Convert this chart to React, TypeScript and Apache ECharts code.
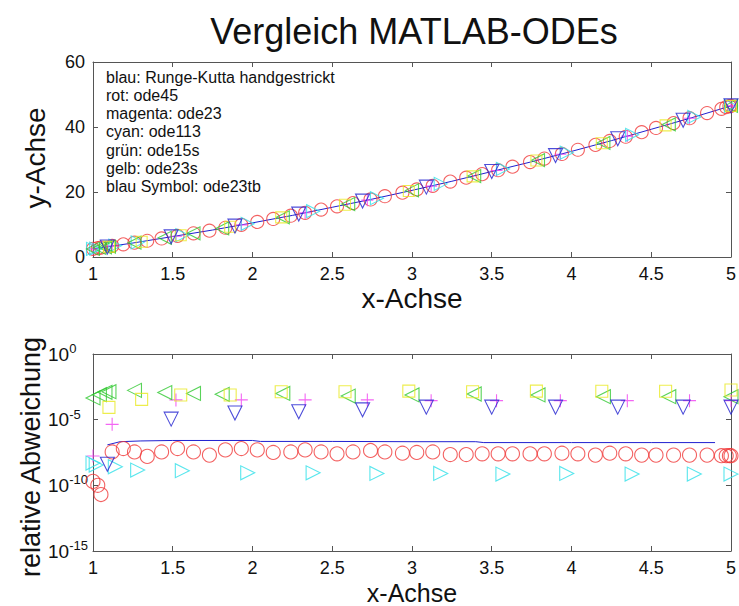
import React, { useEffect, useRef } from "react";
import * as echarts from "echarts";

const titleText = "Vergleich MATLAB-ODEs";
const xAxisName = "x-Achse";
const yAxisNameTop = "y-Achse";
const yAxisNameBottom = "relative Abweichung";
const legendLines = [
  "blau: Runge-Kutta handgestrickt",
  "rot: ode45",
  "magenta: ode23",
  "cyan: ode113",
  "grün: ode15s",
  "gelb: ode23s",
  "blau Symbol: ode23tb",
];

// Runge-Kutta (hand-made): solution line (top) and relative error line (bottom)
const rkX = [1, 1.25, 1.5, 1.75, 2, 2.25, 2.5, 2.75, 3, 3.25, 3.5, 3.75, 4, 4.25, 4.5, 4.75, 5];
const rkY = [2.5, 4.3, 6.3, 8.3, 10.5, 12.8, 15.3, 17.8, 20.5, 23.3, 26.3, 29.3, 32.5, 35.8, 39.3, 42.8, 46.5];
const rkErrX = [1.09, 1.17, 1.3, 1.5, 2.0, 2.05, 2.5, 3.0, 3.4, 3.45, 4.0, 4.5, 4.9];
const rkErr = [1.2e-7, 2.1e-7, 2.4e-7, 2.6e-7, 2.6e-7, 2.2e-7, 2.2e-7, 2.1e-7, 2.1e-7, 1.8e-7, 1.8e-7, 1.8e-7, 1.8e-7];

// ode45 (red circles)
const ode45X = [1.0, 1.03, 1.05, 1.12, 1.19, 1.26, 1.34, 1.43, 1.53, 1.63, 1.73, 1.83, 1.93, 2.03, 2.13, 2.24, 2.33, 2.43, 2.53, 2.63, 2.74, 2.83, 2.94, 3.03, 3.13, 3.24, 3.34, 3.44, 3.54, 3.63, 3.74, 3.83, 3.94, 4.04, 4.15, 4.24, 4.34, 4.44, 4.53, 4.64, 4.74, 4.85, 4.94, 4.97, 4.99, 5.0];
const ode45Y = [2.5, 2.7, 2.9, 3.4, 3.9, 4.4, 5.0, 5.7, 6.5, 7.3, 8.1, 9.0, 9.9, 10.8, 11.7, 12.7, 13.6, 14.6, 15.6, 16.6, 17.7, 18.7, 19.8, 20.8, 21.9, 23.2, 24.4, 25.5, 26.7, 27.8, 29.2, 30.3, 31.7, 33.0, 34.5, 35.7, 37.0, 38.4, 39.7, 41.2, 42.7, 44.3, 45.6, 46.1, 46.4, 46.5];
const ode45Err = [2.0e-10, 1.0e-10, 2.0e-11, 3.5e-8, 6.3e-8, 3.5e-8, 1.6e-8, 3.5e-8, 6.3e-8, 3.5e-8, 2.0e-8, 5.0e-8, 6.3e-8, 5.0e-8, 3.2e-8, 3.5e-8, 5.0e-8, 3.5e-8, 2.5e-8, 3.5e-8, 4.5e-8, 3.5e-8, 2.8e-8, 3.2e-8, 3.5e-8, 2.2e-8, 2.2e-8, 2.5e-8, 2.5e-8, 2.5e-8, 2.5e-8, 2.5e-8, 2.8e-8, 2.5e-8, 2.0e-8, 2.8e-8, 2.5e-8, 2.0e-8, 2.0e-8, 2.0e-8, 2.0e-8, 2.0e-8, 1.8e-8, 1.8e-8, 1.8e-8, 1.8e-8];

// ode23 (magenta plus)
const ode23X = [1.0, 1.12, 1.52, 1.93, 2.33, 2.72, 3.12, 3.53, 3.93, 4.35, 4.74, 5.0];
const ode23Y = [2.5, 3.4, 6.4, 9.9, 13.6, 17.5, 21.8, 26.6, 31.6, 37.2, 42.7, 46.5];
const ode23Err = [1.7e-8, 4.4e-6, 3.2e-4, 3.2e-4, 3.2e-4, 3.2e-4, 2.8e-4, 2.8e-4, 2.8e-4, 2.8e-4, 2.8e-4, 2.8e-4];

// ode113 (cyan right triangles)
const ode113X = [1.0, 1.02, 1.14, 1.28, 1.56, 1.97, 2.38, 2.78, 3.18, 3.57, 3.97, 4.38, 4.77, 5.0];
const ode113Y = [2.5, 2.6, 3.5, 4.5, 6.7, 10.2, 14.1, 18.1, 22.5, 27.1, 32.1, 37.6, 43.1, 46.5];
const ode113Err = [5e-9, 3.5e-9, 2.6e-9, 1.45e-9, 1.3e-9, 9e-10, 9e-10, 8e-10, 8e-10, 7.2e-10, 8e-10, 7.2e-10, 7.2e-10, 7.2e-10];

// ode15s (green left triangles)
const ode15sX = [1.0, 1.04, 1.075, 1.1, 1.26, 1.45, 1.63, 1.81, 2.19, 2.6, 3.0, 3.39, 3.79, 4.2, 4.61, 5.0];
const ode15sY = [2.5, 2.8, 3.0, 3.2, 4.4, 5.9, 7.3, 8.8, 12.2, 16.3, 20.5, 24.9, 29.8, 35.1, 40.8, 46.5];
const ode15sErr = [4.5e-4, 8e-4, 1.2e-3, 1.35e-3, 1.7e-3, 1.15e-3, 1.0e-3, 8.5e-4, 1.0e-3, 6.3e-4, 7.6e-4, 9e-4, 7.6e-4, 5.6e-4, 5.6e-4, 5.6e-4];

// ode23s (yellow squares)
const ode23sX = [1.1, 1.305, 1.55, 1.86, 2.18, 2.58, 2.98, 3.38, 3.78, 4.19, 4.59, 5.0];
const ode23sY = [3.2, 4.7, 6.7, 9.3, 12.2, 16.1, 20.3, 24.8, 29.7, 35.0, 40.5, 46.5];
const ode23sErr = [8.7e-5, 3.5e-4, 7.6e-4, 7.6e-4, 1.35e-3, 1.35e-3, 1.5e-3, 1.35e-3, 1.5e-3, 1.45e-3, 1.45e-3, 1.8e-3];

// ode23tb (blue down triangles)
const ode23tbX = [1.09, 1.49, 1.89, 2.29, 2.69, 3.09, 3.5, 3.9, 4.29, 4.7, 5.0];
const ode23tbY = [3.1, 6.2, 9.5, 13.2, 17.2, 21.5, 26.3, 31.2, 36.4, 42.1, 46.5];
const ode23tbErr = [4e-9, 1.1e-5, 3.2e-5, 4e-5, 5.6e-5, 9e-5, 9e-5, 9e-5, 9e-5, 9e-5, 9e-5];

const zip = (xs: number[], ys: number[]) => xs.map((x, i) => [x, ys[i]]);

const FONT = "'Liberation Sans', Arial, Helvetica, sans-serif";
const C_RED = "#f03a3a";
const C_MAG = "#f040f0";
const C_CYAN = "#30e0e8";
const C_GREEN = "#30c830";
const C_YELLOW = "#e8e820";
const C_BLUE = "#2020d0";
const AX = "#555";

const PLUS = "path://M6,0L6,12M0,6L12,6";

function scatter(name: string, data: number[][], color: string, symbol: string, rotate: number, size: number, xi: number, yi: number) {
  return {
    name,
    type: "scatter",
    xAxisIndex: xi,
    yAxisIndex: yi,
    data,
    symbol,
    symbolRotate: rotate,
    symbolSize: size,
    itemStyle: { color: "rgba(0,0,0,0)", borderColor: color, borderWidth: 1.1 },
    emphasis: { disabled: true },
    z: 3,
  };
}

function xAxisDef(grid: number, pos: "bottom" | "top", labels: boolean) {
  return {
    type: "value",
    gridIndex: grid,
    position: pos,
    min: 1,
    max: 5,
    interval: 0.5,
    axisLine: { show: true, onZero: false, lineStyle: { color: AX, width: 1 } },
    axisTick: { show: true, inside: true, length: 5, lineStyle: { color: AX } },
    axisLabel: { show: labels, color: "#111", fontSize: 18, fontFamily: FONT, margin: 8 },
    splitLine: { show: false },
  };
}

export default function App() {
  const ref = useRef<HTMLDivElement>(null);
  useEffect(() => {
    const chart = echarts.init(ref.current!, null, { renderer: "svg" });
    const yTop = (pos: "left" | "right", labels: boolean) => ({
      type: "value",
      gridIndex: 0,
      position: pos,
      min: 0,
      max: 60,
      interval: 20,
      axisLine: { show: true, onZero: false, lineStyle: { color: AX, width: 1 } },
      axisTick: { show: true, inside: true, length: 5, lineStyle: { color: AX } },
      axisLabel: { show: labels, color: "#111", fontSize: 18, fontFamily: FONT, margin: 8 },
      splitLine: { show: false },
    });
    const yBottom = (pos: "left" | "right", labels: boolean) => ({
      type: "log",
      logBase: 10,
      gridIndex: 1,
      position: pos,
      min: 1e-15,
      max: 1,
      interval: 5,
      axisLine: { show: true, onZero: false, lineStyle: { color: AX, width: 1 } },
      axisTick: { show: true, inside: true, length: 5, lineStyle: { color: AX } },
      axisLabel: {
        show: labels,
        margin: 45,
        align: "left",
        formatter: (v: number) => `{b|10}{s|${Math.round(Math.log10(v))}}`,
        rich: {
          b: { fontSize: 19, color: "#111", fontFamily: FONT },
          s: { fontSize: 13, color: "#111", fontFamily: FONT, padding: [0, 0, 11, 0] },
        },
      },
      splitLine: { show: false },
    });

    const textEl = (text: string, x: number, y: number, size: number, align: string, rot = 0) => ({
      type: "text",
      x,
      y,
      rotation: rot,
      silent: true,
      style: { text, fontSize: size, fontFamily: FONT, fill: "#111", align, verticalAlign: "middle" },
    });

    const option: any = {
      animation: false,
      backgroundColor: "#fff",
      grid: [
        { left: 93, top: 62, width: 638, height: 195 },
        { left: 93, top: 354, width: 638, height: 197 },
      ],
      xAxis: [xAxisDef(0, "bottom", true), xAxisDef(0, "top", false), xAxisDef(1, "bottom", true), xAxisDef(1, "top", false)],
      yAxis: [yTop("left", true), yTop("right", false), yBottom("left", true), yBottom("right", false)],
      graphic: [
        textEl(titleText, 414, 31, 36, "center"),
        textEl(xAxisName, 412, 298, 28, "center"),
        textEl(xAxisName, 412, 593, 25, "center"),
        textEl(yAxisNameTop, 35, 158, 28, "center", Math.PI / 2),
        textEl(yAxisNameBottom, 31, 457, 27, "center", Math.PI / 2),
        ...legendLines.map((t, i) => textEl(t, 106, 77 + i * 18.3, 16, "left")),
      ],
      series: [
        {
          name: "RK",
          type: "line",
          xAxisIndex: 0,
          yAxisIndex: 0,
          data: zip(rkX, rkY),
          showSymbol: false,
          symbol: "none",
          lineStyle: { color: C_BLUE, width: 1 },
          z: 2,
        },
        scatter("ode45", zip(ode45X, ode45Y), C_RED, "circle", 0, 13, 0, 0),
        scatter("ode23", zip(ode23X, ode23Y), C_MAG, PLUS, 0, 12, 0, 0),
        scatter("ode113", zip(ode113X, ode113Y), C_CYAN, "triangle", -90, 13, 0, 0),
        scatter("ode15s", zip(ode15sX, ode15sY), C_GREEN, "triangle", 90, 13, 0, 0),
        scatter("ode23s", zip(ode23sX, ode23sY), C_YELLOW, "rect", 0, 11, 0, 0),
        scatter("ode23tb", zip(ode23tbX, ode23tbY), C_BLUE, "triangle", 180, 14, 0, 0),
        {
          name: "RK err",
          type: "line",
          xAxisIndex: 2,
          yAxisIndex: 2,
          data: zip(rkErrX, rkErr),
          showSymbol: false,
          symbol: "none",
          lineStyle: { color: C_BLUE, width: 1 },
          z: 2,
        },
        scatter("ode45 err", zip(ode45X, ode45Err), C_RED, "circle", 0, 14, 2, 2),
        scatter("ode23 err", zip(ode23X, ode23Err), C_MAG, PLUS, 0, 13, 2, 2),
        scatter("ode113 err", zip(ode113X, ode113Err), C_CYAN, "triangle", -90, 14, 2, 2),
        scatter("ode15s err", zip(ode15sX, ode15sErr), C_GREEN, "triangle", 90, 14, 2, 2),
        scatter("ode23s err", zip(ode23sX, ode23sErr), C_YELLOW, "rect", 0, 12, 2, 2),
        scatter("ode23tb err", zip(ode23tbX, ode23tbErr), C_BLUE, "triangle", 180, 14, 2, 2),
      ],
    };
    chart.setOption(option);
    return () => chart.dispose();
  }, []);
  return <div ref={ref} style={{ position: "absolute", left: 0, top: 0, width: 739, height: 606 }} />;
}
